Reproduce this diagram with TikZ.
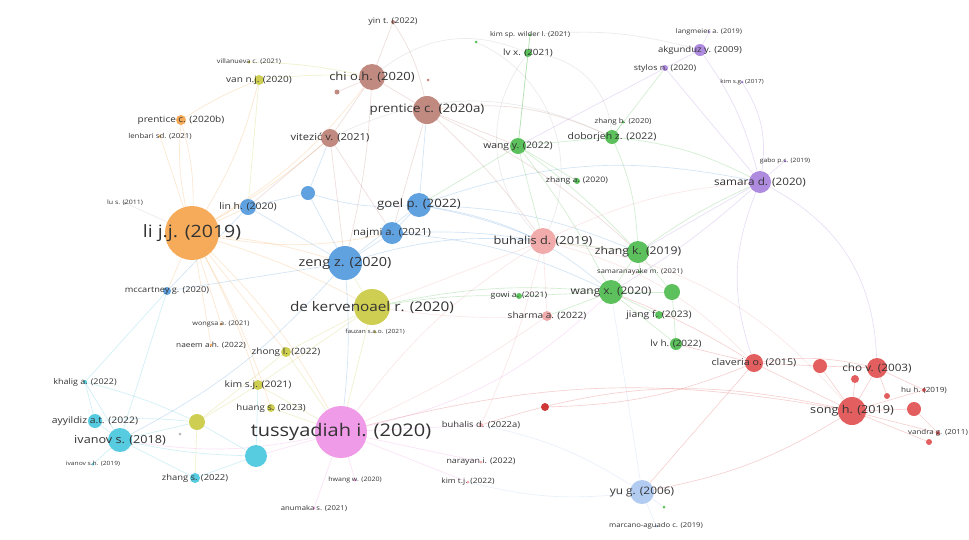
\documentclass[tikz,border=0pt]{standalone}
\usepackage{fontspec}
\setmainfont[FakeStretch=1.15]{Open Sans}
\pgfdeclarelayer{background}
\pgfsetlayers{background,main}
\definecolor{cOr}{HTML}{F4A043}
\definecolor{cOl}{HTML}{C8C83C}
\definecolor{cBl}{HTML}{4A94DC}
\definecolor{cBr}{HTML}{B97A70}
\definecolor{cGr}{HTML}{46B946}
\definecolor{cPk}{HTML}{F0A0A0}
\definecolor{cRd}{HTML}{E04848}
\definecolor{cDr}{HTML}{C81E1E}
\definecolor{cPu}{HTML}{A57BDC}
\definecolor{cMg}{HTML}{EE8EE4}
\definecolor{cCy}{HTML}{40C4DC}
\definecolor{cLb}{HTML}{A8C4F0}
\definecolor{cGy}{HTML}{B0B0B0}
\tikzset{
  nd/.style={circle, inner sep=0pt, draw=none, fill=#1, fill opacity=0.88},
  lb/.style={text=black!80, font=\fontsize{#1}{#1}\selectfont, inner sep=0pt, text opacity=1},
  e/.style={draw=#1, line width=0.65pt, draw opacity=0.25},
}
\begin{document}
\begin{tikzpicture}[x=1pt,y=-1pt]
\useasboundingbox (0,0) rectangle (969,539);
% orange
\node[nd=cOr, minimum size=54pt, label={[lb=17]center:li j.j. (2019)}] (lijj) at (192,233) {};
\node[nd=cOr, minimum size=10pt, label={[lb=8.7]center:prentice c. (2020b)}] (prenb) at (181,120) {};
\node[nd=cOr, minimum size=3pt, label={[lb=6.8]center:lenbari sd. (2021)}] (lenb) at (160,136) {};
\node[nd=cOr, minimum size=3pt, label={[lb=6.3]center:wongsa a. (2021)}] (wongsa) at (221,324) {};
\node[nd=cOr, minimum size=3pt, label={[lb=7.2]center:naeem a.h. (2022)}] (naeem) at (211,345) {};
% olive
\node[nd=cOl, minimum size=10pt, label={[lb=8.7]center:van n.j. (2020)}] (vann) at (259,80) {};
\node[nd=cOl, minimum size=3pt, label={[lb=6.3]center:villanueva c. (2021)}] (villa) at (249,62) {};
\node[nd=cOl, minimum size=36pt, label={[lb=13.3]center:de kervenoael r. (2020)}] (dek) at (372,307) {};
\node[nd=cOl, minimum size=3pt, label={[lb=5.7]center:fauzan s.a.o. (2021)}] (fauz) at (375,332) {};
\node[nd=cOl, minimum size=10pt, label={[lb=8.7]center:zhong l. (2022)}] (zhong) at (286,352) {};
\node[nd=cOl, minimum size=10pt, label={[lb=9]center:kim s.j. (2021)}] (kimsj) at (258,385) {};
\node[nd=cOl, minimum size=8pt, label={[lb=8.4]center:huang s. (2023)}] (huangs) at (271,408) {};
\node[nd=cOl, minimum size=16pt] (yel) at (197,422) {};
% blue
\node[nd=cBl, minimum size=34pt, label={[lb=12.6]center:zeng z. (2020)}] (zeng) at (345,263) {};
\node[nd=cBl, minimum size=24pt, label={[lb=11.5]center:goel p. (2022)}] (goel) at (419,205) {};
\node[nd=cBl, minimum size=22pt, label={[lb=9.8]center:najmi a. (2021)}] (najmi) at (392,233) {};
\node[nd=cBl, minimum size=16pt, label={[lb=9.1]center:lin h. (2020)}] (linh) at (248,207) {};
\node[nd=cBl, minimum size=14pt] (bl1) at (308,193) {};
\node[nd=cBl, minimum size=8pt, label={[lb=8]center:mccartney g. (2020)}] (mcc) at (167,291) {};
\node[nd=cGy, minimum size=3pt, label={[lb=6.1]center:lu s. (2011)}] (lus) at (125,203) {};
% brown
\node[nd=cBr, minimum size=26pt, label={[lb=11.3]center:chi o.h. (2020)}] (chi) at (372,77) {};
\node[nd=cBr, minimum size=28pt, label={[lb=11.6]center:prentice c. (2020a)}] (prena) at (427,110) {};
\node[nd=cBr, minimum size=18pt, label={[lb=9.7]center:vitezić v. (2021)}] (vit) at (330,138) {};
\node[nd=cBr, minimum size=4pt, label={[lb=7.8]center:yin t. (2022)}] (yint) at (393,22) {};
\node[nd=cBr, minimum size=5pt] (br1) at (337,92) {};
\node[nd=cBr, minimum size=3pt] (br2) at (428,80) {};
% green
\node[nd=cGr, minimum size=3pt, label={[lb=6.6]center:kim sp. wilder l. (2021)}] (kimsp) at (530,35) {};
\node[nd=cGr, minimum size=3pt] (gd1) at (476,42) {};
\node[nd=cGr, minimum size=8pt, label={[lb=8.6]center:lv x. (2021)}] (lvx) at (528,53) {};
\node[nd=cGr, minimum size=16pt, label={[lb=9]center:wang y. (2022)}] (wangy) at (518,146) {};
\node[nd=cGr, minimum size=14pt, label={[lb=9.1]center:doborjeh z. (2022)}] (dob) at (612,137) {};
\node[nd=cGr, minimum size=3pt, label={[lb=6.9]center:zhang b. (2020)}] (zhangb) at (623,122) {};
\node[nd=cGr, minimum size=6pt, label={[lb=7.6]center:zhang a. (2020)}] (zhanga) at (577,181) {};
\node[nd=cGr, minimum size=22pt, label={[lb=10.6]center:zhang k. (2019)}] (zhangk) at (638,252) {};
\node[nd=cGr, minimum size=3pt, label={[lb=6.5]center:samaranayake m. (2021)}] (samar) at (640,272) {};
\node[nd=cGr, minimum size=24pt, label={[lb=10.4]center:wang x. (2020)}] (wangx) at (611,292) {};
\node[nd=cGr, minimum size=16pt] (gr1) at (672,292) {};
\node[nd=cGr, minimum size=8pt, label={[lb=9]center:jiang f. (2023)}] (jiangf) at (659,315) {};
\node[nd=cGr, minimum size=12pt, label={[lb=8.7]center:lv h. (2022)}] (lvh) at (676,344) {};
\node[nd=cGr, minimum size=6pt, label={[lb=7.6]center:gowi a. (2021)}] (gowi) at (519,296) {};
\node[nd=cGr, minimum size=3pt] (gd2) at (664,507) {};
% pink
\node[nd=cPk, minimum size=26pt, label={[lb=11.1]center:buhalis d. (2019)}] (buh) at (543,241) {};
\node[nd=cPk, minimum size=10pt, label={[lb=8.7]center:sharma a. (2022)}] (sharma) at (547,316) {};
\node[nd=cPk, minimum size=4pt, label={[lb=8.2]center:buhalis d. (2022a)}] (buh22) at (481,425) {};
\node[nd=cPk, minimum size=3pt, label={[lb=7.7]center:narayan i. (2022)}] (nara) at (481,462) {};
\node[nd=cPk, minimum size=3pt, label={[lb=7.3]center:kim t.j. (2022)}] (kimt) at (468,482) {};
\node[nd=cDr, minimum size=8pt] (reddot) at (545,407) {};
% red
\node[nd=cRd, minimum size=18pt, label={[lb=9.3]center:claveria o. (2015)}] (clav) at (754,363) {};
\node[nd=cRd, minimum size=14pt] (red1) at (820,366) {};
\node[nd=cRd, minimum size=20pt, label={[lb=10.2]center:cho v. (2003)}] (cho) at (877,368) {};
\node[nd=cRd, minimum size=8pt] (red2) at (855,379) {};
\node[nd=cRd, minimum size=6pt] (red3) at (887,396) {};
\node[nd=cRd, minimum size=28pt, label={[lb=11]center:song h. (2019)}] (song) at (852,411) {};
\node[nd=cRd, minimum size=14pt] (red4) at (914,409) {};
\node[nd=cRd, minimum size=4pt, label={[lb=7.1]center:hu h. (2019)}] (hu) at (924,390) {};
\node[nd=cRd, minimum size=4pt, label={[lb=6.9]center:vandra g. (2011)}] (vandra) at (938,433) {};
\node[nd=cRd, minimum size=6pt] (red5) at (929,442) {};
% purple
\node[nd=cPu, minimum size=22pt, label={[lb=10.2]center:samara d. (2020)}] (samara) at (760,182) {};
\node[nd=cPu, minimum size=12pt, label={[lb=8.3]center:akgunduz y. (2009)}] (akg) at (700,50) {};
\node[nd=cPu, minimum size=3pt, label={[lb=6.4]center:langmeier a. (2019)}] (lang) at (709,32) {};
\node[nd=cPu, minimum size=6pt, label={[lb=7.7]center:stylos n. (2020)}] (stylos) at (665,68) {};
\node[nd=cPu, minimum size=3pt, label={[lb=5.6]center:kim s.g. (2017)}] (kimsg) at (742,82) {};
\node[nd=cPu, minimum size=3pt, label={[lb=5.9]center:gabo p.c. (2019)}] (gabo) at (785,161) {};
% magenta
\node[nd=cMg, minimum size=52pt, label={[lb=17.4]center:tussyadiah i. (2020)}] (tus) at (341,432) {};
\node[nd=cMg, minimum size=3pt, label={[lb=6.1]center:hwang w. (2020)}] (hwang) at (355,480) {};
\node[nd=cMg, minimum size=3pt, label={[lb=6.7]center:anumaka s. (2021)}] (anum) at (314,508) {};
% cyan
\node[nd=cCy, minimum size=24pt, label={[lb=11]center:ivanov s. (2018)}] (ivanov) at (120,440) {};
\node[nd=cCy, minimum size=14pt, label={[lb=9]center:ayyildiz a.t. (2022)}] (ayy) at (95,421) {};
\node[nd=cCy, minimum size=4pt, label={[lb=7.8]center:khalig a. (2022)}] (khalig) at (85,382) {};
\node[nd=cCy, minimum size=3pt, label={[lb=5.8]center:ivanov s.h. (2019)}] (ivan19) at (93,464) {};
\node[nd=cCy, minimum size=10pt, label={[lb=8.2]center:zhang s. (2022)}] (zhangs) at (195,478) {};
\node[nd=cCy, minimum size=22pt] (cy1) at (256,456) {};
\node[nd=cGy, minimum size=3pt] (gy1) at (180,434) {};
% light blue
\node[nd=cLb, minimum size=24pt, label={[lb=10.3]center:yu g. (2006)}] (yug) at (642,492) {};
\node[nd=cLb, minimum size=3pt, label={[lb=6.7]center:marcano-aguado c. (2019)}] (marc) at (656,526) {};

\begin{pgfonlayer}{background}
\fill[white] (0,0) rectangle (969,539);
% orange
\draw[e=cOr] (lijj) to[bend left=8] (prenb);
\draw[e=cOr] (lijj) to[bend right=8] (prenb);
\draw[e=cOr] (lijj) to (lenb);
\draw[e=cOr] (lijj) to[bend right=8] (vann);
\draw[e=cOr] (prenb) to[bend left=5] (vann);
\draw[e=cOr] (lijj) to[bend right=10] (chi);
\draw[e=cOr] (lijj) to[bend right=5] (vit);
\draw[e=cOr] (lijj) to (linh);
\draw[e=cOr] (lijj) to[bend left=5] (zeng);
\draw[e=cOr] (lijj) to[bend left=5] (dek);
\draw[e=cOr] (lijj) to (mcc);
\draw[e=cOr] (lijj) to (wongsa);
\draw[e=cOr] (lijj) to (naeem);
\draw[e=cOr] (lijj) to[bend left=8] (tus);
\draw[e=cOr] (lijj) to (zhong);
\draw[e=cOr] (lijj) to[bend left=5] (kimsj);
\draw[e=cOr] (lijj) to[bend left=5] (huangs);
\draw[e=cGy] (lijj) to (lus);
\draw[e=cOr] (lijj) to[bend right=10] (najmi);
% olive
\draw[e=cOl] (vann) to[bend left=5] (chi);
\draw[e=cOl] (vann) to (linh);
\draw[e=cOl] (villa) to[bend left=5] (chi);
\draw[e=cOl] (dek) to (zeng);
\draw[e=cGr] (dek) to[bend left=5] (gowi);
\draw[e=cGr] (dek) to[bend left=8] (wangx);
\draw[e=cOl] (dek) to (zhong);
\draw[e=cOl] (dek) to (kimsj);
\draw[e=cOl] (dek) to (tus);
\draw[e=cPk] (dek) to[bend right=5] (sharma);
\draw[e=cOl] (zhong) to (tus);
\draw[e=cOl] (kimsj) to (tus);
\draw[e=cOl] (huangs) to (tus);
\draw[e=cOl] (yel) to (kimsj);
\draw[e=cOl] (yel) to (zhong);
\draw[e=cOl] (yel) to (zhangs);
% blue
\draw[e=cBl] (zeng) to (goel);
\draw[e=cBl] (zeng) to (najmi);
\draw[e=cBl] (zeng) to (linh);
\draw[e=cBl] (zeng) to (bl1);
\draw[e=cBl] (zeng) to[bend left=5] (tus);
\draw[e=cBl] (zeng) to[bend left=10] (ivanov);
\draw[e=cBl] (zeng) to (mcc);
\draw[e=cBl] (zeng) to[bend left=10] (buh);
\draw[e=cBl] (goel) to (najmi);
\draw[e=cBl] (goel) to[bend left=5] (buh);
\draw[e=cBl] (goel) to[bend left=10] (zhangk);
\draw[e=cBl] (goel) to[bend left=15] (wangx);
\draw[e=cBl] (goel) to[bend left=15] (samara);
\draw[e=cBl] (najmi) to[bend left=5] (buh);
\draw[e=cBl] (najmi) to[bend left=10] (wangx);
\draw[e=cBl] (bl1) to (linh);
\draw[e=cBl] (bl1) to (vit);
\draw[e=cBl] (bl1) to[bend right=10] (goel);
\draw[e=cBl] (linh) to (mcc);
\draw[e=cBl] (goel) to (prena);
% brown
\draw[e=cBr] (chi) to (prena);
\draw[e=cBr] (chi) to (vit);
\draw[e=cBr] (chi) to (yint);
\draw[e=cBr] (prena) to[bend right=10] (yint);
\draw[e=cBr] (chi) to (br1);
\draw[e=cBr] (prena) to (wangy);
\draw[e=cBr] (prena) to (najmi);
\draw[e=cBr] (prena) to[bend left=5] (buh);
\draw[e=cBr] (vit) to (zeng);
\draw[e=cBr] (vit) to (linh);
\draw[e=cBr] (vit) to (najmi);
\draw[e=cGy] (vit) to[bend left=25] (dob);
\draw[e=cGy] (chi) to[bend left=30] (lvx);
\draw[e=cBr] (prena) to[bend left=15] (dob);
\draw[e=cBr] (chi) to[bend left=5] (zeng);
\draw[e=cBr] (prena) to[bend left=8] (zhangk);
% green
\draw[e=cGr] (wangy) to (dob);
\draw[e=cGr] (wangy) to (zhanga);
\draw[e=cGr] (wangy) to (lvx);
\draw[e=cGr] (wangy) to[bend left=5] (zhangk);
\draw[e=cGr] (wangy) to[bend left=5] (wangx);
\draw[e=cGr] (wangy) to (buh);
\draw[e=cGr] (wangy) to (goel);
\draw[e=cGr] (wangy) to (kimsp);
\draw[e=cGr] (lvx) to (kimsp);
\draw[e=cGy] (lvx) to[bend left=40] (dob);
\draw[e=cGy] (lvx) to[bend right=40] (buh);
\draw[e=cGr] (zhangk) to (wangx);
\draw[e=cGr] (zhangk) to (gr1);
\draw[e=cGr] (zhangk) to (samar);
\draw[e=cGr] (wangx) to (gr1);
\draw[e=cGr] (wangx) to (jiangf);
\draw[e=cGr] (wangx) to (lvh);
\draw[e=cGr] (gr1) to (lvh);
\draw[e=cGr] (wangx) to (gowi);
\draw[e=cGr] (wangx) to (sharma);
\draw[e=cGr] (zhangk) to (buh);
\draw[e=cGr] (zhangk) to[bend left=5] (samara);
\draw[e=cGr] (dob) to[bend left=10] (samara);
\draw[e=cGr] (dob) to (stylos);
\draw[e=cGr] (dob) to (zhangb);
\draw[e=cGr] (dob) to[bend left=10] (zhangk);
\draw[e=cGy] (kimsp) to[bend left=10] (akg);
\draw[e=cGy] (gd1) to[bend left=45] (buh);
% pink
\draw[e=cPk] (buh) to (sharma);
\draw[e=cPk] (buh) to[bend right=10] (tus);
\draw[e=cPk] (buh) to[bend left=5] (buh22);
\draw[e=cPk] (buh) to (zhangk);
\draw[e=cPk] (buh) to[bend left=15] (clav);
\draw[e=cPk] (buh) to[bend left=20] (song);
\draw[e=cPk] (sharma) to[bend left=5] (tus);
\draw[e=cPk] (buh) to (dek);
\draw[e=cPk] (buh) to[bend left=10] (samara);
% red
\draw[e=cRd] (song) to (clav);
\draw[e=cRd] (song) to (cho);
\draw[e=cRd] (song) to (red1);
\draw[e=cRd] (song) to (red2);
\draw[e=cRd] (song) to (red4);
\draw[e=cRd] (song) to (hu);
\draw[e=cRd] (song) to (vandra);
\draw[e=cRd] (song) to (red5);
\draw[e=cRd] (cho) to (red1);
\draw[e=cRd] (cho) to (red3);
\draw[e=cRd] (cho) to (hu);
\draw[e=cRd] (clav) to (red1);
\draw[e=cRd] (clav) to[bend left=10] (cho);
\draw[e=cRd] (clav) to (yug);
\draw[e=cRd] (song) to[bend left=10] (yug);
\draw[e=cRd] (song) to[bend right=12] (tus);
\draw[e=cRd] (clav) to[bend right=5] (wangx);
\draw[e=cRd] (clav) to (lvh);
\draw[e=cPu] (samara) to[bend left=30] (cho);
\draw[e=cPu] (samara) to[bend right=20] (clav);
\draw[e=cRd] (red4) to (vandra);
\draw[e=cRd] (clav) to[bend left=10] (reddot);
\draw[e=cLb] (yug) to (wangx);
\draw[e=cLb] (yug) to[bend right=10] (buh22);
\draw[e=cLb] (yug) to[bend left=10] (kimt);
\draw[e=cLb] (yug) to (marc);
\draw[e=cLb] (yug) to (gd2);
\draw[e=cRd] (song) to[bend right=15] (buh22);
% magenta
\draw[e=cMg] (tus) to (nara);
\draw[e=cMg] (tus) to (kimt);
\draw[e=cMg] (tus) to (buh22);
\draw[e=cMg] (tus) to (hwang);
\draw[e=cMg] (tus) to (anum);
\draw[e=cMg] (tus) to (cy1);
\draw[e=cMg] (tus) to[bend left=10] (ivanov);
\draw[e=cMg] (tus) to[bend right=15] (wangx);
% cyan
\draw[e=cCy] (ivanov) to (ayy);
\draw[e=cCy] (ivanov) to (khalig);
\draw[e=cCy] (ivanov) to (ivan19);
\draw[e=cCy] (ivanov) to (zhangs);
\draw[e=cCy] (ivanov) to[bend right=5] (cy1);
\draw[e=cCy] (ivanov) to (yel);
\draw[e=cCy] (ivanov) to (mcc);
\draw[e=cCy] (ayy) to (khalig);
\draw[e=cCy] (cy1) to (zhangs);
\draw[e=cCy] (cy1) to (yel);
\draw[e=cCy] (khalig) to (mcc);
\draw[e=cCy] (ayy) to[bend left=5] (yel);
\draw[e=cCy] (khalig) to[bend left=5] (yel);
\draw[e=cCy] (cy1) to (kimsj);
% purple
\draw[e=cPu] (samara) to[bend right=10] (akg);
\draw[e=cPu] (samara) to (stylos);
\draw[e=cPu] (samara) to (gabo);
\draw[e=cPu] (samara) to[bend right=20] (kimsg);
\draw[e=cPu] (akg) to (stylos);
\draw[e=cPu] (akg) to (lang);
\draw[e=cPu] (samara) to (zhangk);
\draw[e=cPu] (samara) to[bend left=5] (wangx);
\draw[e=cPu] (stylos) to (wangy);
\end{pgfonlayer}
\end{tikzpicture}
\end{document}
